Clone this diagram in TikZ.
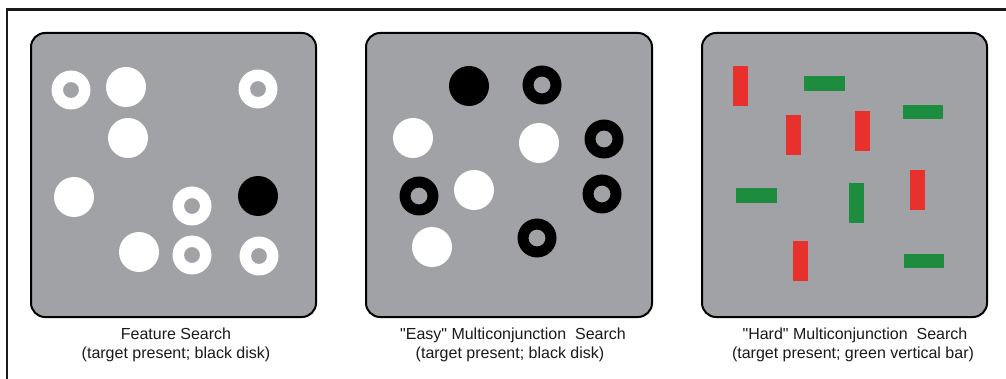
\documentclass[tikz,border=0pt]{standalone}
\usepackage{fontspec}
\setmainfont{Liberation Sans}
\newfontfamily\capfont{Liberation Sans}
\definecolor{panelgray}{HTML}{A0A2A5}
\definecolor{barred}{HTML}{E8312C}
\definecolor{bargreen}{HTML}{1E8C3F}
\definecolor{inkc}{HTML}{1A1A1A}
\tikzset{
  panel/.style={draw=black, line width=2pt, fill=panelgray, rounded corners=14pt},
  frameline/.style={draw=inkc, line width=2.2pt},
  caption/.style={anchor=base, inner sep=0pt, text=inkc, font=\capfont\fontsize{16}{19}\selectfont},
  whitedisk/.style={fill=white},
  blackdisk/.style={fill=black},
  whitering/.style={fill=white, even odd rule},
  blackring/.style={fill=black, even odd rule},
  redbar/.style={fill=barred},
  greenbar/.style={fill=bargreen},
}
\begin{document}
\begin{tikzpicture}[x=1pt,y=-1pt]
\useasboundingbox (0,0) rectangle (1006,379);
\fill[white] (0,0) rectangle (1006,379);
% frame (top and left only)
\coordinate (fA) at (6,9.5);
\coordinate (fB) at (1006,9.5);
\coordinate (fC) at (7,379);
\coordinate (fD) at (7,8.4);
\draw[frameline] (fA) -- (fB);
\draw[frameline] (fD) -- (fC);

% panels
\draw[panel] (31,33) rectangle (316,317);
\draw[panel] (366,33) rectangle (652,317);
\draw[panel] (702,33) rectangle (987,317);

% panel 1: feature search
\fill[whitering] (71,90) circle (19.5pt) (71,90) circle (8pt);
\fill[whitedisk] (126,87) circle (20pt);
\fill[whitering] (258,89) circle (19.5pt) (258,89) circle (8pt);
\fill[whitedisk] (128,138) circle (20pt);
\fill[whitedisk] (74,197) circle (20pt);
\fill[whitering] (192,206) circle (19.5pt) (192,206) circle (8pt);
\fill[blackdisk] (258,196) circle (20pt);
\fill[whitedisk] (139,252) circle (20pt);
\fill[whitering] (192,255) circle (19.5pt) (192,255) circle (8pt);
\fill[whitering] (259,256) circle (19.5pt) (259,256) circle (8pt);

% panel 2: easy multiconjunction
\fill[blackdisk] (469,86) circle (20pt);
\fill[blackring] (542,85) circle (19.5pt) (542,85) circle (8.5pt);
\fill[whitedisk] (413,138) circle (20pt);
\fill[whitedisk] (539,143) circle (20pt);
\fill[blackring] (604,139) circle (19.5pt) (604,139) circle (8.5pt);
\fill[blackring] (419,196) circle (19.5pt) (419,196) circle (8.5pt);
\fill[whitedisk] (474,190) circle (20pt);
\fill[blackring] (602,194) circle (19.5pt) (602,194) circle (8.5pt);
\fill[whitedisk] (432,247) circle (20pt);
\fill[blackring] (537,238) circle (19.5pt) (537,238) circle (8.5pt);

% panel 3: hard multiconjunction
\fill[redbar] (733,66) rectangle (748,106);
\fill[greenbar] (804,76) rectangle (845,91);
\fill[redbar] (786,115) rectangle (801,155);
\fill[redbar] (855,111) rectangle (870,151);
\fill[greenbar] (903,105) rectangle (943,119);
\fill[greenbar] (736,188) rectangle (777,203);
\fill[greenbar] (849,183) rectangle (864,223);
\fill[redbar] (910,170) rectangle (925,210);
\fill[redbar] (793,241) rectangle (808,281);
\fill[greenbar] (904,254) rectangle (944,268);

% captions
\node[caption] (c1a) at (176,339) {Feature Search};
\node[caption] (c1b) at (176,358) {(target present; black disk)};
\node[caption] (c2a) at (513,339) {"Easy" Multiconjunction\ \ Search};
\node[caption] (c2b) at (510,358) {(target present; black disk)};
\node[caption] (c3a) at (855,339) {"Hard" Multiconjunction\ \ Search};
\node[caption] (c3b) at (853,358) {(target present; green vertical bar)};
\end{tikzpicture}
\end{document}
